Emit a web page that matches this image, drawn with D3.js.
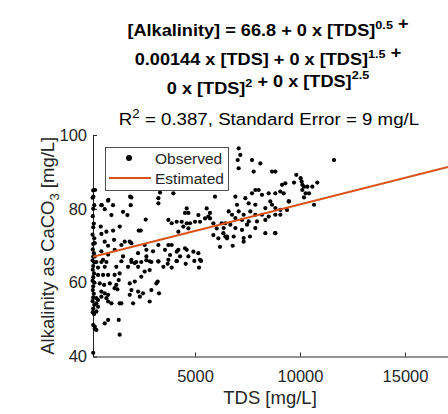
<!DOCTYPE html>
<html>
<head>
<meta charset="utf-8">
<script src="https://cdn.jsdelivr.net/npm/d3@7"></script>
<style>
  body { margin: 0; background: #fff; }
  text { font-family: "Liberation Sans", Arial, Helvetica, sans-serif; }
</style>
</head>
<body>
<div id="chart"></div>
<script>
const tds = [
  150, 120, 200, 150, 130, 180, 150, 120, 200, 150, 130, 180, 150, 120, 200, 150, 130, 190, 150, 120,
  200, 150, 130, 180, 150, 120, 200, 150, 130, 190, 150, 220, 150, 238, 157,
  300, 540, 780, 380, 700, 1250, 380, 620, 860, 1170, 1410, 460, 670, 940, 1250, 1365, 540, 700, 860, 1170,
  1300, 300, 380, 780, 860, 1020, 540, 300, 380, 1410, 300, 190, 700, 860, 1365, 222, 300, 1410,
  1970, 2200, 2440, 2680, 2920, 1810, 2290, 2600, 2840, 2440, 2130, 1890, 3160, 1970, 2290, 2520, 2920, 1890, 2370, 2050,
  2840, 1490,
  3254, 3492, 3698, 3889, 4127, 4556, 4968, 5190, 5286, 3222, 3286,
  540, 857, 1095, 1968, 1937, 698, 1016, 1571, 1778, 2651, 508, 778, 1095, 540, 1413, 2317, 2413, 222, 698, 1143,
  1651, 1889, 1968, 1492, 857, 2603, 2683, 540, 857, 1175, 1571, 1968, 2286, 2683, 3000, 222, 619, 1492, 2127, 2841,
  1905, 556, 873,
  3333, 3968, 3254, 3254, 5952, 4603, 4683, 4524, 5159, 5556, 5714, 5635, 3730, 3889, 4127, 4365, 4603, 4762, 5000, 5238,
  4444, 4683, 4206, 5476, 5714, 5873, 6032, 6270, 6349, 5873, 6111, 3254, 3730, 3889, 4127, 4206, 4524, 4603, 4921, 5159,
  3810, 4286, 3254, 3730, 4127, 4683, 5238, 6190, 3571,
  7079, 7159, 7032, 7079, 7714, 8111, 7794, 8667, 8825, 9302, 9143, 7873, 8032, 6921, 7397, 7714, 8190, 8508, 8587, 8825,
  9063, 9222, 9460, 7000, 7556, 7873, 8349, 8667, 8825, 9063, 9380, 6603, 6762, 7079, 7317, 7635, 7873, 8190, 8508, 8825,
  9063, 6921, 7238, 7556, 7952, 8349, 6444, 6683, 7476, 6365, 6921, 7238, 7873, 8349, 8825, 6524, 6841, 7317,
  6444, 6524, 6794, 7317, 7619, 8810,
  11619, 9825, 9714, 10032, 10079, 10111, 10190, 10349, 10587, 10825, 10111, 10270, 10429, 10190, 10667, 9476
]
const alkalinity = [
  85, 83, 81, 80, 78, 76, 75, 73, 72, 70.5, 69, 68, 67, 66, 65.5, 64.5, 63.5, 62.5, 61.5, 60.5,
  60, 59, 58, 57, 56, 55, 54, 53, 52, 51.5, 48.5, 47.5, 41, 85.1, 83.3,
  65.6, 65.6, 65.6, 64.1, 64.3, 64.3, 62.1, 62.1, 62.1, 62.1, 62.5, 59.8, 59.4, 59.8, 59.4, 60.7, 57.6, 57.1, 56.7, 58.5,
  58.2, 55.8, 55.3, 55.8, 54.9, 54.4, 56.2, 54.4, 53.5, 54.4, 52.2, 51.7, 49, 49.9, 49.9, 48.1, 47.2, 45.9,
  65.6, 65.6, 65.6, 66.1, 65.6, 64.3, 64.3, 63, 63.4, 61.6, 60.3, 59.8, 59.8, 58, 57.6, 57.1, 58, 56.7, 56.2, 54.4,
  54.9, 54.4,
  65.7, 64.3, 65.1, 64.1, 65.9, 65.1, 65.9, 64.1, 65.9, 60.3, 57.1,
  81, 82.2, 81, 83.1, 81, 79.9, 78.3, 79.2, 78.3, 77.1, 75.2, 73.8, 74.1, 73.2, 75.2, 74.1, 74.1, 70.7, 71.1, 71.6,
  71.1, 71.1, 70.7, 70.2, 70, 70.2, 68.9, 68.5, 67.6, 68.9, 67.1, 66.2, 68, 67.1, 68.5, 67.1, 66.2, 65.8, 65.3, 65.8,
  83.3, 81, 82.4,
  84.4, 84.2, 82.9, 81.5, 83.3, 80.1, 78.9, 78.9, 78.3, 80.1, 78.9, 77.9, 77, 76.1, 76.5, 76.5, 76.1, 76.1, 76.5, 76.5,
  75.2, 74.7, 73.8, 77.4, 77.4, 76.1, 74.7, 76.1, 73.4, 72.9, 72, 70.2, 70.2, 70.2, 68.4, 68.9, 69.3, 68.9, 68.4, 68,
  67.5, 67.1, 65.8, 66.2, 65.8, 67.1, 66.2, 69.7, 68.9,
  96.4, 94.6, 93.2, 91, 93.2, 92.3, 90.1, 90.1, 90.1, 86.9, 86.5, 85.1, 85.1, 83.3, 82.9, 84.2, 83.8, 84.2, 82, 84.2,
  84.7, 84.2, 82, 81.1, 81.5, 81.1, 80.2, 81.1, 80.2, 79.7, 79.7, 79.3, 78.4, 79.3, 78.4, 79.3, 78.4, 78.4, 77.9, 78.4,
  78.4, 77.5, 77, 76.6, 76.6, 77, 76.1, 75.7, 75.7, 74.8, 74.8, 74.3, 74.8, 73.4, 73.4, 72.5, 72.5, 72.1,
  72.5, 72, 70, 71.1, 72.5, 73.4,
  93.2, 89.2, 87.1, 88.3, 87.4, 86.5, 86, 86, 86, 87.1, 85.1, 84.2, 84.2, 83.1, 81.1, 82
]
// fitted model: alkalinity = intercept + slope * TDS
const intercept = 66.8
const slope = 0.00144
const xTicks = [5000, 10000, 15000]
const yTicks = [40, 60, 80, 100]
const legendLabels = ['Observed', 'Estimated']

const width = 448
const height = 414
const ink = '#262626'
const orange = '#D95319'

const svg = d3.select('#chart').append('svg')
  .attr('width', width)
  .attr('height', height)

const x = d3.scaleLinear().domain([140, 17050]).range([93, 448])
const y = d3.scaleLinear().domain([40, 100]).range([356.5, 135])

// title, three bold lines with exponents (source font renders a little wider)
const title = svg.append('g').attr('font-weight', 'bold').attr('font-size', 16.5)
  .attr('text-anchor', 'middle').attr('fill', '#000')
function titleLine (yPos, parts) {
  const t = title.append('text').attr('transform', `translate(268,${yPos}) scale(1.1,1)`)
  parts.forEach(p => {
    if (typeof p === 'string') {
      t.append('tspan').text(p)
    } else {
      t.append('tspan').attr('dy', -7.5).attr('font-size', 11.5).text(p.sup)
      t.append('tspan').attr('dy', 7.5).text('')
    }
  })
}
titleLine(36, ['[Alkalinity] = 66.8 + 0 x [TDS]', { sup: '0.5' }, ' +'])
titleLine(65, ['0.00144 x [TDS] + 0 x [TDS]', { sup: '1.5' }, ' +'])
titleLine(94, ['0 x [TDS]', { sup: '2' }, ' + 0 x [TDS]', { sup: '2.5' }])

const sub = svg.append('text').attr('transform', 'translate(269,125) scale(1.1,1)')
  .attr('text-anchor', 'middle').attr('font-size', 17).attr('fill', '#000')
sub.append('tspan').text('R')
sub.append('tspan').attr('dy', -7.5).attr('font-size', 12).text('2')
sub.append('tspan').attr('dy', 7.5).text(' = 0.387, Standard Error = 9 mg/L')

// axes (ticks point inward, no box)
const xAxis = svg.append('g').attr('transform', `translate(0,${y(40)})`)
  .call(d3.axisBottom(x).tickValues(xTicks).tickSizeInner(-4).tickSizeOuter(0).tickPadding(14).tickFormat(d3.format('d')))
const yAxis = svg.append('g').attr('transform', `translate(${x(140)},0)`)
  .call(d3.axisLeft(y).tickValues(yTicks).tickSizeInner(-4).tickSizeOuter(0).tickPadding(6).tickFormat(d3.format('d')))
;[xAxis, yAxis].forEach(a => {
  a.select('.domain').attr('stroke', ink).attr('stroke-width', 1)
  a.selectAll('.tick line').attr('stroke', ink)
  a.selectAll('.tick text').attr('fill', ink).attr('font-size', 16.5)
    .attr('font-family', '"Liberation Sans", Arial, sans-serif')
})

svg.append('text').attr('x', 270).attr('y', 404).attr('text-anchor', 'middle')
  .attr('font-size', 18.5).attr('fill', ink).text('TDS [mg/L]')

const ylab = svg.append('text')
  .attr('transform', `translate(54,${(y(40) + y(100)) / 2}) rotate(-90)`)
  .attr('text-anchor', 'middle').attr('font-size', 18.5).attr('fill', ink)
ylab.append('tspan').text('Alkalinity as CaCO')
ylab.append('tspan').attr('dy', 5).attr('font-size', 13).text('3')
ylab.append('tspan').attr('dy', -5).text(' [mg/L]')

// observed points
svg.append('g').selectAll('circle').data(tds.map((t, i) => [t, alkalinity[i]]))
  .join('circle')
  .attr('cx', d => x(d[0]))
  .attr('cy', d => y(d[1]))
  .attr('r', 2.1)
  .attr('fill', '#000')

// estimated line
const xs = x.domain()
svg.append('path')
  .datum(xs.map(v => [v, intercept + slope * v]))
  .attr('d', d3.line().x(d => x(d[0])).y(d => y(d[1])))
  .attr('stroke', orange).attr('stroke-width', 2).attr('fill', 'none')

// legend
const lg = svg.append('g')
lg.append('rect').attr('x', 105.5).attr('y', 147.5).attr('width', 123).attr('height', 43)
  .attr('fill', '#fff').attr('stroke', ink).attr('stroke-width', 0.8)
lg.append('circle').attr('cx', 129).attr('cy', 158).attr('r', 3).attr('fill', '#000')
lg.append('line').attr('x1', 109).attr('x2', 151).attr('y1', 178).attr('y2', 178)
  .attr('stroke', orange).attr('stroke-width', 2)
lg.selectAll('text.lbl').data(legendLabels).join('text')
  .attr('class', 'lbl')
  .attr('x', 155).attr('y', (d, i) => 164 + i * 20)
  .attr('font-size', 15.5).attr('fill', ink).text(d => d)
</script>
</body>
</html>
